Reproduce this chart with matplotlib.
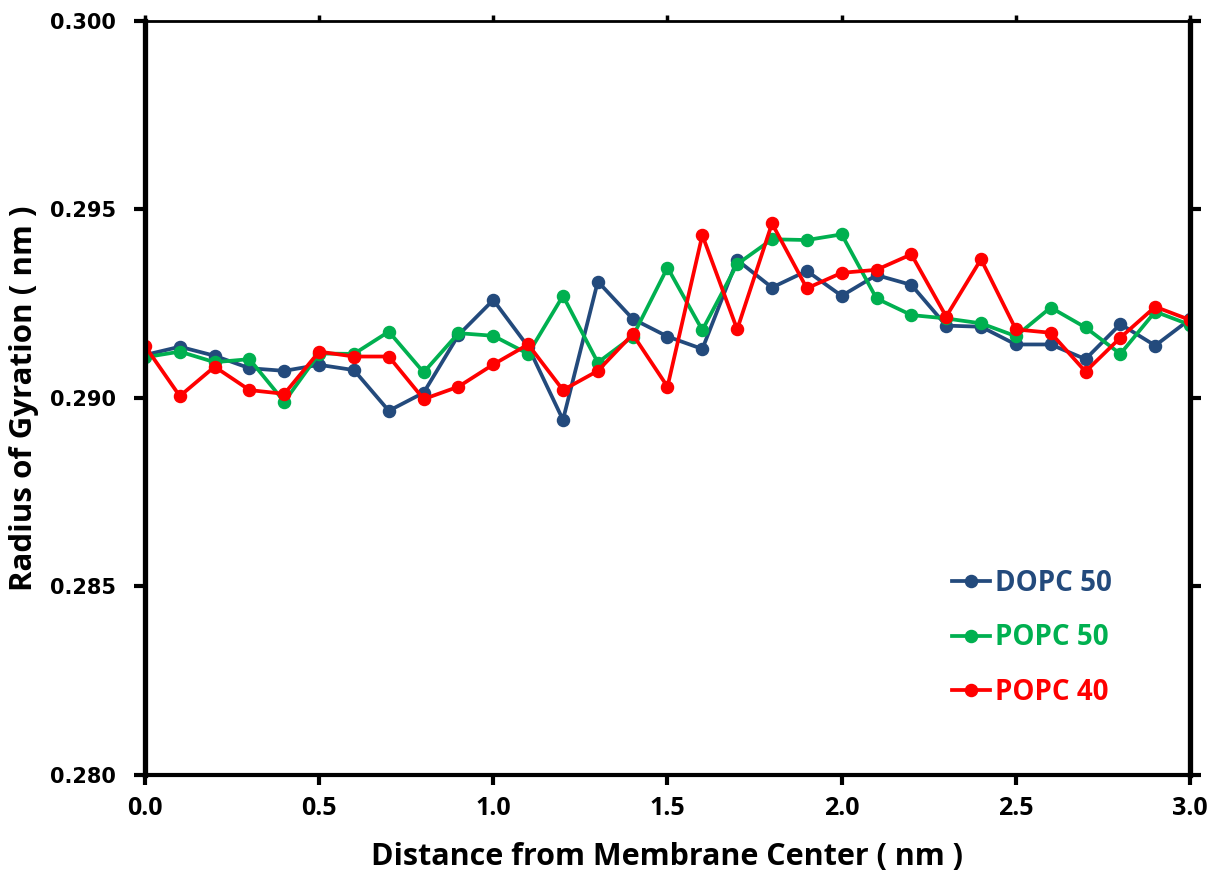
import numpy as np
import matplotlib.pyplot as plt

distance = np.round(np.arange(0, 3.01, 0.1), 1)

dopc50 = [0.29114, 0.29136, 0.29112, 0.29079, 0.29072, 0.29088, 0.29074, 0.28966,
          0.29014, 0.29167, 0.29260, 0.29136, 0.28942, 0.29309, 0.29210, 0.29163,
          0.29130, 0.29366, 0.29293, 0.29337, 0.29271, 0.29326, 0.29300, 0.29192,
          0.29189, 0.29142, 0.29142, 0.29103, 0.29196, 0.29139, 0.29209]
popc50 = [0.29108, 0.29123, 0.29095, 0.29103, 0.28990, 0.29118, 0.29117, 0.29176,
          0.29068, 0.29172, 0.29165, 0.29117, 0.29271, 0.29094, 0.29163, 0.29346,
          0.29180, 0.29355, 0.29421, 0.29419, 0.29434, 0.29264, 0.29220, 0.29211,
          0.29198, 0.29164, 0.29240, 0.29187, 0.29117, 0.29229, 0.29194]
popc40 = [0.29138, 0.29005, 0.29083, 0.29021, 0.29011, 0.29123, 0.29110, 0.29110,
          0.28997, 0.29030, 0.29089, 0.29142, 0.29021, 0.29072, 0.29169, 0.29030,
          0.29432, 0.29182, 0.29463, 0.29291, 0.29332, 0.29340, 0.29381, 0.29216,
          0.29368, 0.29182, 0.29173, 0.29070, 0.29160, 0.29242, 0.29207]

fig = plt.figure(figsize=(12.1, 8.75), dpi=100)
ax = fig.add_axes([0.1198, 0.1143, 0.8637, 0.8617])

style = dict(lw=2.7, marker='o', ms=8.7)
ax.plot(distance, dopc50, color='#234A7C', label='DOPC 50', **style)
ax.plot(distance, popc50, color='#00B050', label='POPC 50', **style)
ax.plot(distance, popc40, color='#FF0000', label='POPC 40', **style)

ax.set_xlim(0, 3.0)
ax.set_ylim(0.280, 0.300)
xt = np.arange(0, 3.01, 0.5)
yt = np.arange(0.280, 0.3001, 0.005)
ax.set_xticks(xt)
ax.set_yticks(yt)
ax.set_xticklabels(['%.1f' % v for v in xt], family='Open Sans', weight='bold', fontsize=18)
ax.set_yticklabels(['%.3f' % v for v in yt], family='DejaVu Sans', weight='bold', fontsize=15)

# outward ticks on all four sides, thinner on top
ax.tick_params(axis='y', direction='out', length=8, width=3, left=True, right=True, pad=13)
ax.tick_params(axis='x', direction='out', length=7, width=3, bottom=True, pad=8)
ax.tick_params(axis='x', top=True)
for t in ax.xaxis.get_ticklines()[1::2]:
    t.set_markersize(4)
    t.set_markeredgewidth(2.5)
for side in ['left', 'right']:
    ax.spines[side].set_linewidth(3.8)
ax.spines['bottom'].set_linewidth(3)
ax.spines['top'].set_linewidth(2)

ax.set_xlabel('Distance from Membrane Center ( nm )', family='Open Sans',
              weight='bold', fontsize=22, labelpad=15)
ax.set_ylabel('Radius of Gyration ( nm )', family='Open Sans',
              weight='bold', fontsize=22.5, labelpad=8)

ax.legend(loc='upper left', bbox_to_anchor=(0.7585, 0.292), frameon=False, borderpad=0,
          labelcolor='linecolor', handlelength=1.4, handletextpad=0.15,
          labelspacing=0.92, prop={'family': 'Open Sans', 'weight': 'bold', 'size': 20})

fig.savefig('out.png', dpi=100)
